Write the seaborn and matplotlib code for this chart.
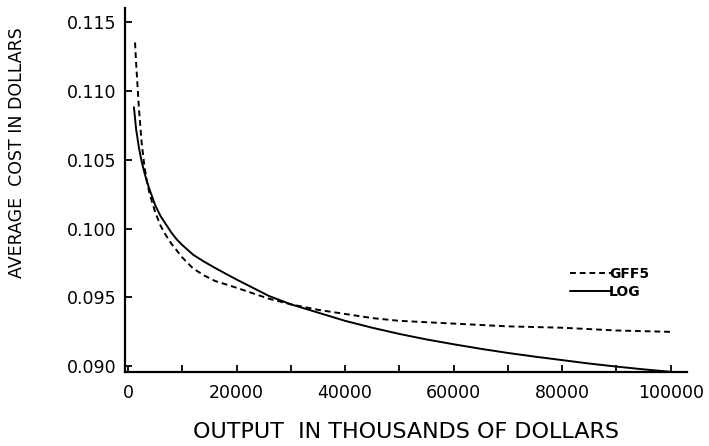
import numpy as np
import pandas as pd
import matplotlib.pyplot as plt
import seaborn as sns
from matplotlib.ticker import MultipleLocator, FormatStrFormatter

# values (output in thousands, average cost in dollars)
gff5_output = [1300, 1500, 2000, 2500, 3000, 3500, 4000, 5000, 6000, 7000,
               8000, 9000, 10000, 12000, 14000, 16000, 18000, 20000, 23000,
               26000, 30000, 35000, 40000, 45000, 50000, 60000, 70000, 80000,
               90000, 100000]
gff5_cost = [0.1135, 0.1120, 0.1088, 0.1063, 0.1046, 0.1034, 0.1025, 0.1012,
             0.1002, 0.0995, 0.0989, 0.0984, 0.0979, 0.0971, 0.0966, 0.09620,
             0.09595, 0.0957, 0.0953, 0.0949, 0.0945, 0.0941, 0.0938, 0.0935,
             0.0933, 0.0931, 0.0929, 0.0928, 0.0926, 0.0925]

log_output = [1100, 1500, 2000, 2500, 3000, 3500, 4000, 5000, 6000, 7000,
              8000, 9000, 10000, 12000, 14000, 16000, 18000, 20000, 23000,
              26000, 30000, 35000, 40000, 45000, 50000, 55000, 60000, 65000,
              70000, 75000, 80000, 85000, 90000, 95000, 100000]
log_cost = [0.1088, 0.1072, 0.1059, 0.1049, 0.1041, 0.1034, 0.1028, 0.1017,
            0.1009, 0.1003, 0.0997, 0.0992, 0.0988, 0.0981, 0.0976, 0.09715,
            0.09672, 0.0963, 0.0957, 0.0951, 0.0945, 0.0939, 0.0933, 0.0928,
            0.09235, 0.09195, 0.0916, 0.09127, 0.09097, 0.0907, 0.09045, 0.0902,
            0.08998, 0.08978, 0.0896]

df = pd.concat([
    pd.DataFrame({'output': gff5_output, 'cost': gff5_cost, 'model': 'GFF5'}),
    pd.DataFrame({'output': log_output, 'cost': log_cost, 'model': 'LOG'}),
])

sns.set_style('ticks')
plt.rcParams['font.family'] = ['DejaVu Sans']
plt.rcParams['text.color'] = 'black'
plt.rcParams['axes.labelcolor'] = 'black'

fig = plt.figure(figsize=(7.09, 4.46), dpi=100)
ax = fig.add_axes([0.1763, 0.166, 0.969 - 0.1763, 0.982 - 0.166])

sns.lineplot(data=df, x='output', y='cost', hue='model', style='model',
             palette={'GFF5': 'black', 'LOG': 'black'},
             dashes={'GFF5': (3, 2), 'LOG': ''}, linewidth=1.4, ax=ax)

ax.set_xlim(-550, 103000)
ax.set_ylim(0.08959, 0.1160)
ax.set_yticks([0.090, 0.095, 0.100, 0.105, 0.110, 0.115])
ax.yaxis.set_major_formatter(FormatStrFormatter('%.3f'))
ax.set_xticks([0, 20000, 40000, 60000, 80000, 100000])
ax.xaxis.set_minor_locator(MultipleLocator(10000))
ax.tick_params(which='both', direction='in', length=5, width=1.3, labelsize=12.5,
               color='black', labelcolor='black')
ax.tick_params(axis='x', pad=9)
ax.tick_params(axis='y', pad=6)

for s in ['top', 'right']:
    ax.spines[s].set_visible(False)
for s in ['left', 'bottom']:
    ax.spines[s].set_linewidth(1.6)
    ax.spines[s].set_color('black')

ax.set_xlabel('OUTPUT  IN THOUSANDS OF DOLLARS', fontsize=16, labelpad=14)
ax.set_ylabel('AVERAGE  COST IN DOLLARS', fontsize=12.5)
ax.yaxis.set_label_coords(-0.177, 0.604)

leg = ax.legend(loc='center left', bbox_to_anchor=(0.77, 0.245), frameon=False,
                handlelength=2.9, handletextpad=-0.1, labelspacing=0.25,
                prop={'size': 10, 'weight': 'bold'})

fig.savefig('out.png', dpi=100)
